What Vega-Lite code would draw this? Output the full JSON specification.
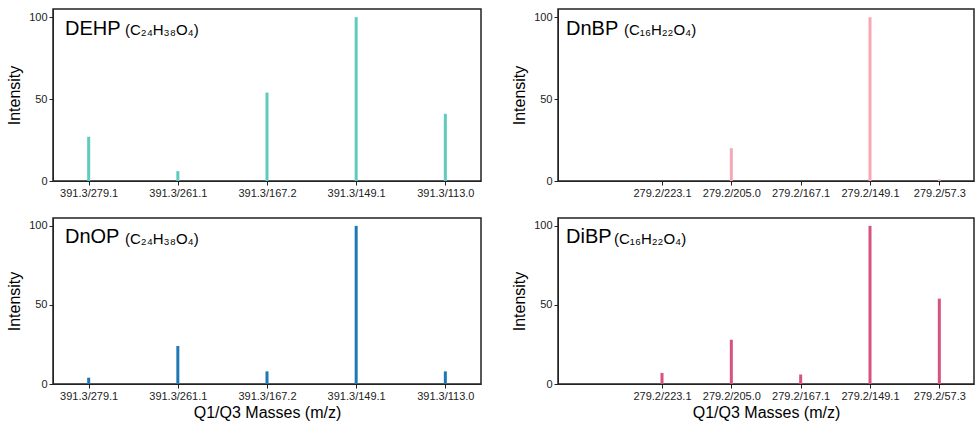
{
  "$schema": "https://vega.github.io/schema/vega-lite/v6.json",
  "padding": {"left": 5, "top": 8, "right": 3, "bottom": 2},
  "datasets": {
    "ions": [
      {"panel": "DEHP", "trans": "391.3/279.1", "intensity": 27},
      {"panel": "DEHP", "trans": "391.3/261.1", "intensity": 6},
      {"panel": "DEHP", "trans": "391.3/167.2", "intensity": 54},
      {"panel": "DEHP", "trans": "391.3/149.1", "intensity": 100},
      {"panel": "DEHP", "trans": "391.3/113.0", "intensity": 41},
      {"panel": "DnBP", "trans": "279.2/223.1", "intensity": 0},
      {"panel": "DnBP", "trans": "279.2/205.0", "intensity": 20},
      {"panel": "DnBP", "trans": "279.2/167.1", "intensity": 0},
      {"panel": "DnBP", "trans": "279.2/149.1", "intensity": 100},
      {"panel": "DnBP", "trans": "279.2/57.3", "intensity": 1},
      {"panel": "DnOP", "trans": "391.3/279.1", "intensity": 4},
      {"panel": "DnOP", "trans": "391.3/261.1", "intensity": 24},
      {"panel": "DnOP", "trans": "391.3/167.2", "intensity": 8},
      {"panel": "DnOP", "trans": "391.3/149.1", "intensity": 100},
      {"panel": "DnOP", "trans": "391.3/113.0", "intensity": 8},
      {"panel": "DiBP", "trans": "279.2/223.1", "intensity": 7},
      {"panel": "DiBP", "trans": "279.2/205.0", "intensity": 28},
      {"panel": "DiBP", "trans": "279.2/167.1", "intensity": 6},
      {"panel": "DiBP", "trans": "279.2/149.1", "intensity": 100},
      {"panel": "DiBP", "trans": "279.2/57.3", "intensity": 54}
    ],
    "one": [{}]
  },
  "spacing": 18,
  "vconcat": [
    {
      "spacing": 28,
      "hconcat": [
        {
          "width": 428, "height": 172,
          "layer": [
            {
              "data": {"name": "ions"},
              "transform": [{"filter": "datum.panel == 'DEHP'"}],
              "mark": {"type": "bar", "size": 3, "color": "#5fcabd"},
              "encoding": {
                "x": {"field": "trans", "type": "nominal", "sort": null, "scale": {"type": "point", "padding": 0.4}, "axis": {"title": null}},
                "y": {"field": "intensity", "type": "quantitative", "scale": {"domain": [0, 105], "nice": false}, "axis": {"values": [0, 50, 100], "title": "Intensity"}}
              }
            },
            {
              "data": {"name": "one"},
              "mark": {"type": "text", "align": "left", "baseline": "middle", "fontSize": 20},
              "encoding": {"x": {"value": 12}, "y": {"datum": 93}, "text": {"value": "DEHP"}}
            },
            {
              "data": {"name": "one"},
              "mark": {"type": "text", "align": "left", "baseline": "middle", "fontSize": 15},
              "encoding": {"x": {"value": 72}, "y": {"datum": 92}, "text": {"value": "(C₂₄H₃₈O₄)"}}
            }
          ]
        },
        {
          "width": 416, "height": 172,
          "layer": [
            {
              "data": {"name": "ions"},
              "transform": [{"filter": "datum.panel == 'DnBP'"}],
              "mark": {"type": "bar", "size": 3, "color": "#f8a7b6"},
              "encoding": {
                "x": {"field": "trans", "type": "nominal", "scale": {"type": "point", "padding": 0.5, "domain": [" ", "279.2/223.1", "279.2/205.0", "279.2/167.1", "279.2/149.1", "279.2/57.3"]}, "axis": {"title": null, "values": ["279.2/223.1", "279.2/205.0", "279.2/167.1", "279.2/149.1", "279.2/57.3"]}},
                "y": {"field": "intensity", "type": "quantitative", "scale": {"domain": [0, 105], "nice": false}, "axis": {"values": [0, 50, 100], "title": "Intensity"}}
              }
            },
            {
              "data": {"name": "one"},
              "mark": {"type": "text", "align": "left", "baseline": "middle", "fontSize": 20},
              "encoding": {"x": {"value": 8}, "y": {"datum": 93}, "text": {"value": "DnBP"}}
            },
            {
              "data": {"name": "one"},
              "mark": {"type": "text", "align": "left", "baseline": "middle", "fontSize": 15},
              "encoding": {"x": {"value": 66}, "y": {"datum": 92}, "text": {"value": "(C₁₆H₂₂O₄)"}}
            }
          ]
        }
      ]
    },
    {
      "spacing": 28,
      "hconcat": [
        {
          "width": 428, "height": 166,
          "layer": [
            {
              "data": {"name": "ions"},
              "transform": [{"filter": "datum.panel == 'DnOP'"}],
              "mark": {"type": "bar", "size": 3, "color": "#1f77b4"},
              "encoding": {
                "x": {"field": "trans", "type": "nominal", "sort": null, "scale": {"type": "point", "padding": 0.4}, "axis": {"title": "Q1/Q3 Masses (m/z)"}},
                "y": {"field": "intensity", "type": "quantitative", "scale": {"domain": [0, 105], "nice": false}, "axis": {"values": [0, 50, 100], "title": "Intensity"}}
              }
            },
            {
              "data": {"name": "one"},
              "mark": {"type": "text", "align": "left", "baseline": "middle", "fontSize": 20},
              "encoding": {"x": {"value": 12}, "y": {"datum": 93}, "text": {"value": "DnOP"}}
            },
            {
              "data": {"name": "one"},
              "mark": {"type": "text", "align": "left", "baseline": "middle", "fontSize": 15},
              "encoding": {"x": {"value": 72}, "y": {"datum": 92}, "text": {"value": "(C₂₄H₃₈O₄)"}}
            }
          ]
        },
        {
          "width": 416, "height": 166,
          "layer": [
            {
              "data": {"name": "ions"},
              "transform": [{"filter": "datum.panel == 'DiBP'"}],
              "mark": {"type": "bar", "size": 3, "color": "#d6527f"},
              "encoding": {
                "x": {"field": "trans", "type": "nominal", "scale": {"type": "point", "padding": 0.5, "domain": [" ", "279.2/223.1", "279.2/205.0", "279.2/167.1", "279.2/149.1", "279.2/57.3"]}, "axis": {"title": "Q1/Q3 Masses (m/z)", "values": ["279.2/223.1", "279.2/205.0", "279.2/167.1", "279.2/149.1", "279.2/57.3"]}},
                "y": {"field": "intensity", "type": "quantitative", "scale": {"domain": [0, 105], "nice": false}, "axis": {"values": [0, 50, 100], "title": "Intensity"}}
              }
            },
            {
              "data": {"name": "one"},
              "mark": {"type": "text", "align": "left", "baseline": "middle", "fontSize": 20},
              "encoding": {"x": {"value": 8}, "y": {"datum": 93}, "text": {"value": "DiBP"}}
            },
            {
              "data": {"name": "one"},
              "mark": {"type": "text", "align": "left", "baseline": "middle", "fontSize": 15},
              "encoding": {"x": {"value": 56}, "y": {"datum": 92}, "text": {"value": "(C₁₆H₂₂O₄)"}}
            }
          ]
        }
      ]
    }
  ],
  "config": {
    "font": "Liberation Sans",
    "view": {"stroke": "#222", "strokeWidth": 1.5},
    "text": {"font": "Liberation Sans", "fontWeight": "normal", "color": "#000"},
    "axis": {
      "grid": false,
      "labelColor": "#222",
      "labelFont": "Liberation Sans",
      "titleFont": "Liberation Sans",
      "labelFontSize": 11,
      "titleFontSize": 16,
      "titleFontWeight": "normal",
      "titleColor": "#000",
      "domainColor": "#222",
      "tickColor": "#222",
      "tickSize": 4,
      "labelPadding": 2
    },
    "axisX": {"labelAngle": 0, "titlePadding": 3},
    "axisY": {"titlePadding": 6}
  }
}
